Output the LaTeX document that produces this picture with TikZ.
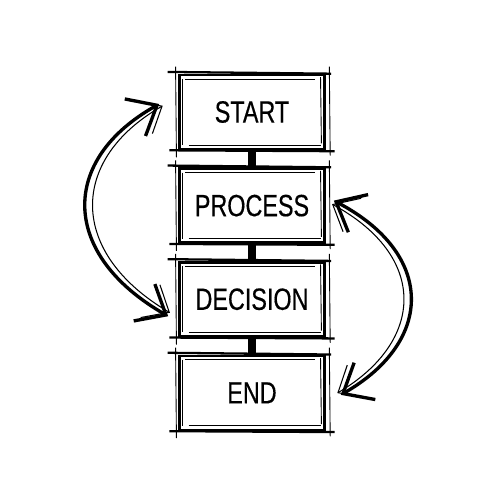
\documentclass[tikz,border=0pt]{standalone}
\usepackage{fontspec}
\newfontfamily\boxfont[FakeStretch=0.76,FakeBold=0.4]{Liberation Sans}
\usetikzlibrary{positioning,arrows.meta}

\tikzset{
  stepbox/.style={draw, line width=1.5pt, minimum width=2.9cm, minimum height=1.48cm,
    inner sep=0pt, font=\boxfont\fontsize{17.5}{20}\selectfont},
  sketch/.style={line width=0.5pt},
  rough/.style={line width=1.3pt},
  stem/.style={line width=0.16cm},
  swing/.style={line width=1.9pt, {Straight Barb[length=5mm,width=8.5mm]}-{Straight Barb[length=5mm,width=8.5mm]}},
  swingthin/.style={line width=0.6pt, {Straight Barb[length=4.4mm,width=7.6mm]}-{Straight Barb[length=4.4mm,width=7.6mm]}},
}

\begin{document}
\begin{tikzpicture}[x=0.02cm, y=-0.02cm]
  \useasboundingbox (0,0) rectangle (500,500);

  \node[stepbox] at (252,112) (start) {START};
  \node[stepbox, below=0.34cm of start] (process) {PROCESS};
  \node[stepbox, below=0.34cm of process] (decision) {DECISION};
  \node[stepbox, below=0.34cm of decision] (stop) {END};

  % links between the boxes
  \draw[stem] (start) -- (process);
  \draw[stem] (process) -- (decision);
  \draw[stem] (decision) -- (stop);

  % rough pencil strokes round each box
  \foreach \n in {start,process,decision,stop} {
    \draw[sketch] ([shift={(2.5pt,-3pt)}]\n.north west) -- ([shift={(2.5pt,3pt)}]\n.south west);
    \draw[sketch] ([shift={(4pt,-3pt)}]\n.north west) -- ([shift={(-6pt,-3pt)}]\n.north east);
    \draw[sketch] ([shift={(6pt,3pt)}]\n.south west) -- ([shift={(-3pt,3pt)}]\n.south east);
    \draw[sketch] ([shift={(-3pt,-2pt)}]\n.north east) -- ([shift={(-2.5pt,4pt)}]\n.south east);
    \draw[rough] ([shift={(-6pt,1pt)}]\n.north west) -- ([xshift=3pt]\n.north east);
    \draw[rough] ([xshift=-5pt]\n.south west) -- ([shift={(5pt,-0.5pt)}]\n.south east);
    \draw[sketch] ([shift={(-1.5pt,4pt)}]\n.north west) -- ([shift={(-1pt,-4pt)}]\n.south west);
    \draw[sketch] ([shift={(2pt,4pt)}]\n.north east) -- ([shift={(2.5pt,-3pt)}]\n.south east);
  }

  \coordinate (lt) at ([shift={(-0.38cm,0.16cm)}]start.west);
  \coordinate (lb) at ([shift={(-0.2cm,-0.34cm)}]decision.west);
  \coordinate (rt) at ([shift={(0.16cm,0.1cm)}]process.east);
  \coordinate (rb) at ([shift={(0.3cm,-0.04cm)}]stop.east);

  % the two swing arrows
  \draw[swing] (lt) .. controls +(-100,56) and +(-108,-62) .. (lb);
  \draw[swingthin] ([shift={(2pt,-1pt)}]lt) .. controls +(-94,54) and +(-102,-60) .. ([shift={(1pt,2pt)}]lb);
  \draw[swing] (rt) .. controls +(101,53) and +(94,-54) .. (rb);
  \draw[swingthin] ([shift={(-1pt,-2pt)}]rt) .. controls +(96,52) and +(88,-52) .. ([shift={(-2pt,1pt)}]rb);
\end{tikzpicture}
\end{document}
